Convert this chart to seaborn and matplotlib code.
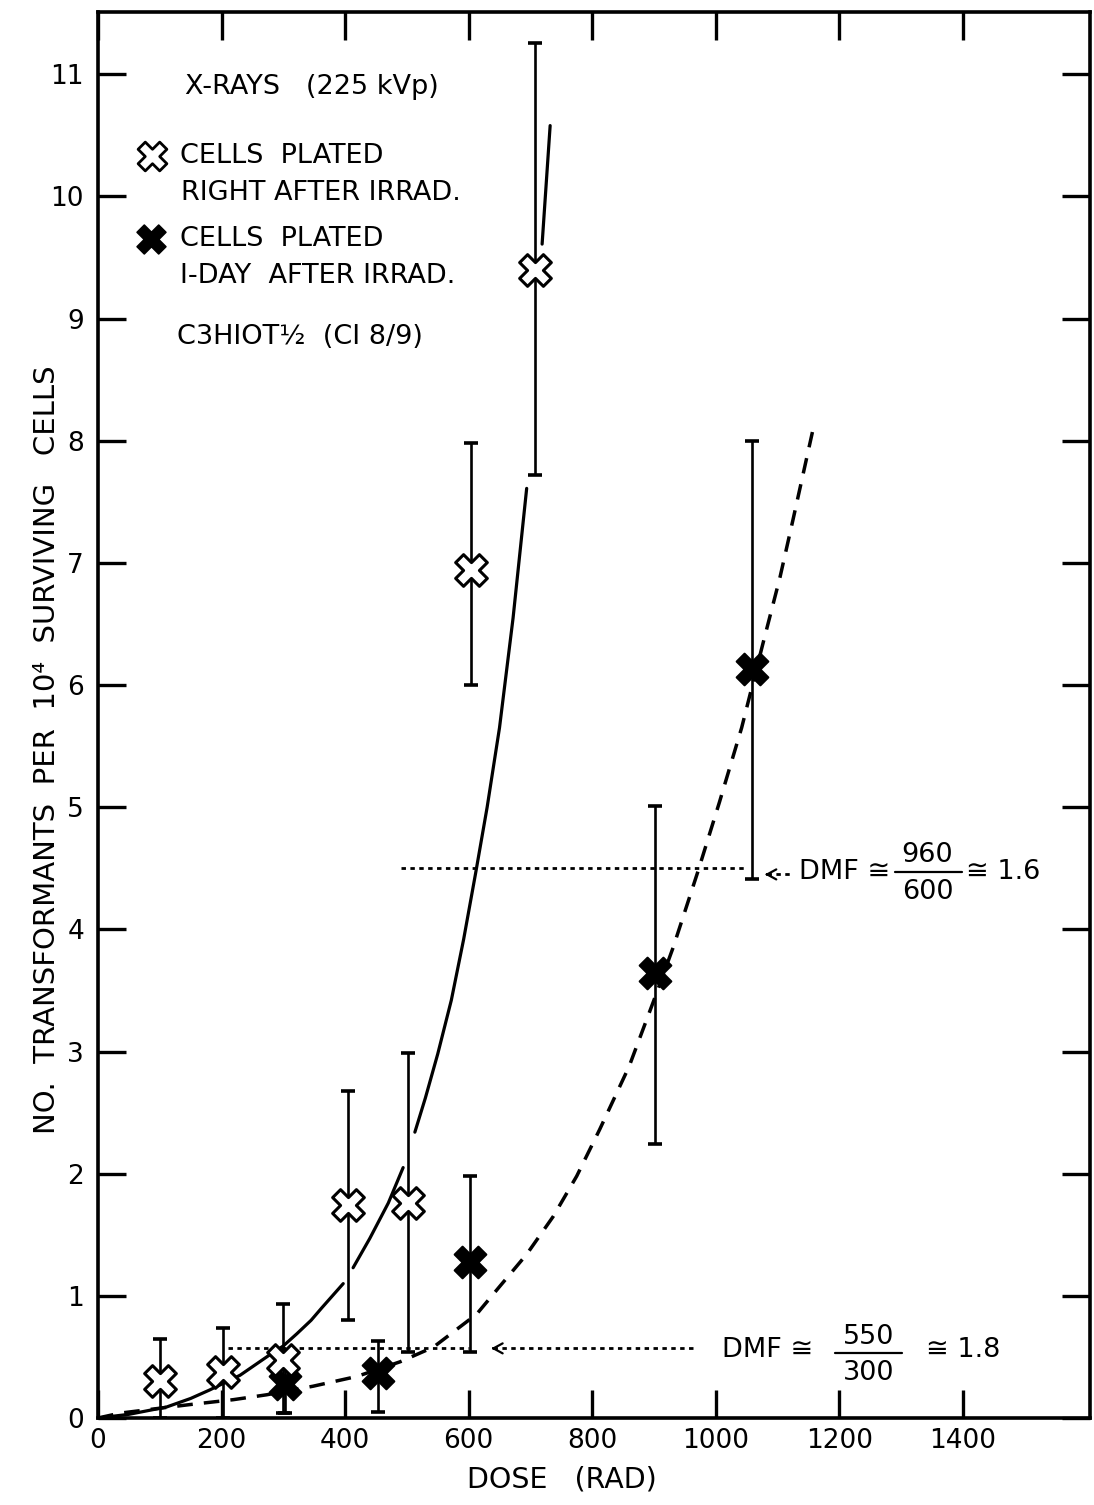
import numpy as np
import pandas as pd
import matplotlib
matplotlib.use("Agg")
import matplotlib.pyplot as plt
import seaborn as sns

# ---------------- data ----------------
open_dose = [100, 203, 300, 405, 502, 604, 707]
open_val = [0.30, 0.38, 0.475, 1.745, 1.76, 6.94, 9.40]
open_lo = [0.0, 0.0, 0.04, 0.80, 0.54, 6.0, 7.72]
open_hi = [0.65, 0.74, 0.93, 2.68, 2.99, 7.98, 11.26]

filled_dose = [303, 454, 602, 901, 1058]
filled_val = [0.28, 0.366, 1.28, 3.64, 6.135]
filled_lo = [0.04, 0.05, 0.54, 2.24, 4.41]
filled_hi = [0.45, 0.63, 1.98, 5.01, 8.0]

# fitted curve (solid, right after irradiation), in segments
solid_x = [0, 50, 111, 150, 181, 230, 276, 300, 322, 345, 362, 397,
           413, 440, 470, 494,
           513, 530, 550, 572, 592, 611, 630, 650, 672, 694,
           719, 732]
solid_y = [0, 0.03, 0.09, 0.16, 0.23, 0.35, 0.51, 0.59, 0.69, 0.80, 0.90, 1.10,
           1.23, 1.47, 1.76, 2.05,
           2.34, 2.62, 2.98, 3.42, 3.92, 4.45, 5.0, 5.65, 6.55, 7.61,
           9.61, 10.58]
solid_seg = [0] * 12 + [1] * 4 + [2] * 10 + [3] * 2

# fitted curve (dashed, 1 day after irradiation)
dash_x = [0, 36, 100, 149, 219, 273, 348, 419, 489, 543, 613, 650, 694, 737,
          775, 812, 860, 900, 931, 971, 1006, 1042, 1076, 1104, 1125, 1157]
dash_y = [0, 0.04, 0.08, 0.11, 0.15, 0.19, 0.26, 0.34, 0.46, 0.58, 0.85, 1.075,
          1.34, 1.65, 1.98, 2.36, 2.88, 3.42, 3.85, 4.47, 5.04, 5.65, 6.33, 6.88,
          7.35, 8.08]

# DMF reference lines
dmf_hi_level = 4.5
dmf_hi_x = [490, 1050]
dmf_lo_level = 0.57
dmf_lo_x = [211, 600]
dmf_hi_arrow = [1075, 1125]
dmf_lo_arrow = [632, 970]

x_ticks = [0, 200, 400, 600, 800, 1000, 1200, 1400]
y_ticks = list(range(0, 12))

# ---------------- style ----------------
sns.set_theme(style="ticks")
plt.rcParams["font.family"] = ["DejaVu Sans"]
plt.rcParams["text.color"] = "black"
plt.rcParams["axes.labelcolor"] = "black"
plt.rcParams["xtick.color"] = "black"
plt.rcParams["ytick.color"] = "black"
FS = 19
TS = 19.5

fig = plt.figure(figsize=(10.94, 15.05), dpi=100)
ax = fig.add_axes([98 / 1094, 1 - 1418 / 1505, (1090 - 98) / 1094, (1418 - 12) / 1505])

solid_df = pd.DataFrame({"dose": solid_x, "val": solid_y, "seg": solid_seg})
dash_df = pd.DataFrame({"dose": dash_x, "val": dash_y})

sns.lineplot(data=solid_df, x="dose", y="val", units="seg", estimator=None,
             sort=False, color="black", lw=2.3, ax=ax, zorder=2)
n_before = len(ax.lines)
sns.lineplot(data=dash_df, x="dose", y="val", estimator=None, sort=False,
             color="black", lw=2.5, ax=ax, zorder=2)
for ln in ax.lines[n_before:]:
    ln.set_linestyle((0, (4.5, 3.2)))

# DMF dotted lines
dot = dict(color="black", lw=2.0, linestyle=(0, (1.6, 1.6)), zorder=2)
ax.plot(dmf_hi_x, [dmf_hi_level] * 2, **dot)
ax.plot([dmf_hi_arrow[0] + 8, dmf_hi_arrow[1]], [dmf_hi_level - 0.05] * 2, **dot)
ax.plot(dmf_lo_x, [dmf_lo_level] * 2, **dot)
ax.plot([dmf_lo_arrow[0] + 8, dmf_lo_arrow[1]], [dmf_lo_level] * 2, **dot)
arr = dict(arrowstyle="->,head_length=0.55,head_width=0.3", color="black", lw=1.6)
ax.annotate("", xy=(dmf_hi_arrow[0], dmf_hi_level - 0.05),
            xytext=(dmf_hi_arrow[0] + 14, dmf_hi_level - 0.05), arrowprops=arr)
ax.annotate("", xy=(dmf_lo_arrow[0], dmf_lo_level),
            xytext=(dmf_lo_arrow[0] + 14, dmf_lo_level), arrowprops=arr)

# error bars
eb = dict(fmt="none", ecolor="black", elinewidth=1.9, capsize=5, capthick=2.6, zorder=3)
ax.errorbar(filled_dose, filled_val,
            yerr=[np.array(filled_val) - np.array(filled_lo),
                  np.array(filled_hi) - np.array(filled_val)], **eb)
ax.errorbar(open_dose, open_val,
            yerr=[np.array(open_val) - np.array(open_lo),
                  np.array(open_hi) - np.array(open_val)], **eb)

# markers
sns.scatterplot(x=filled_dose, y=filled_val, marker="X", s=520, color="black",
                edgecolor="black", linewidth=1.5, ax=ax, zorder=4)
sns.scatterplot(x=open_dose, y=open_val, marker="X", s=520, color="white",
                edgecolor="black", linewidth=2.2, ax=ax, zorder=5)

# axes
ax.set_xlim(0, 1606)
ax.set_ylim(0, 11.51)
ax.set_xticks(x_ticks)
ax.set_yticks(y_ticks)
ax.set_xticklabels([str(t) for t in x_ticks], fontsize=FS)
ax.set_yticklabels([str(t) for t in y_ticks], fontsize=FS)
ax.tick_params(axis="both", which="both", direction="in", length=20, width=2.4,
               top=True, right=True, color="black", labelcolor="black")
ax.tick_params(axis="x", pad=7)
ax.tick_params(axis="y", pad=10)
for sp in ax.spines.values():
    sp.set_linewidth(2.6)
    sp.set_color("black")
    sp.set_visible(True)
ax.grid(False)
ax.set_facecolor("white")

ax.set_xlabel("DOSE   (RAD)", fontsize=20.5, color="black")
ax.xaxis.set_label_coords(0.468, -0.034)
ax.set_ylabel("NO.  TRANSFORMANTS  PER  10\u2074  SURVIVING   CELLS", fontsize=21,
              color="black")
ax.yaxis.set_label_coords(-0.037, 0.475)

# legend / annotations
tk = dict(fontsize=TS, va="center", ha="left", color="black")
ax.text(141, 10.9, "X-RAYS   (225 kVp)", **tk)
ax.scatter([87], [10.33], marker="X", s=430, color="white", edgecolor="black",
           linewidth=2.0, zorder=5)
ax.text(133, 10.33, "CELLS  PLATED", **tk)
ax.text(135, 10.03, "RIGHT AFTER IRRAD.", **tk)
ax.scatter([86], [9.65], marker="X", s=430, color="black", edgecolor="black",
           linewidth=1.2, zorder=5)
ax.text(133, 9.65, "CELLS  PLATED", **tk)
ax.text(133, 9.345, "I-DAY  AFTER IRRAD.", **tk)
ax.text(128, 8.85, "C3HIOT\u00bd  (CI 8/9)", **tk)

# upper DMF label
tc = dict(fontsize=TS, va="center", ha="center", color="black")
ax.text(1135, 4.47, "DMF \u2245", **tk)
ax.text(1343, 4.61, "960", **tc)
ax.plot([1290, 1398], [4.47, 4.47], color="black", lw=1.6)
ax.text(1343, 4.31, "600", **tc)
ax.text(1405, 4.47, "\u2245 1.6", **tk)

# lower DMF label
ax.text(1010, 0.56, "DMF \u2245", **tk)
ax.text(1247, 0.66, "550", **tc)
ax.plot([1193, 1302], [0.53, 0.53], color="black", lw=1.6)
ax.text(1247, 0.37, "300", **tc)
ax.text(1340, 0.56, "\u2245 1.8", **tk)

fig.savefig("out.png", dpi=100, facecolor="white")
